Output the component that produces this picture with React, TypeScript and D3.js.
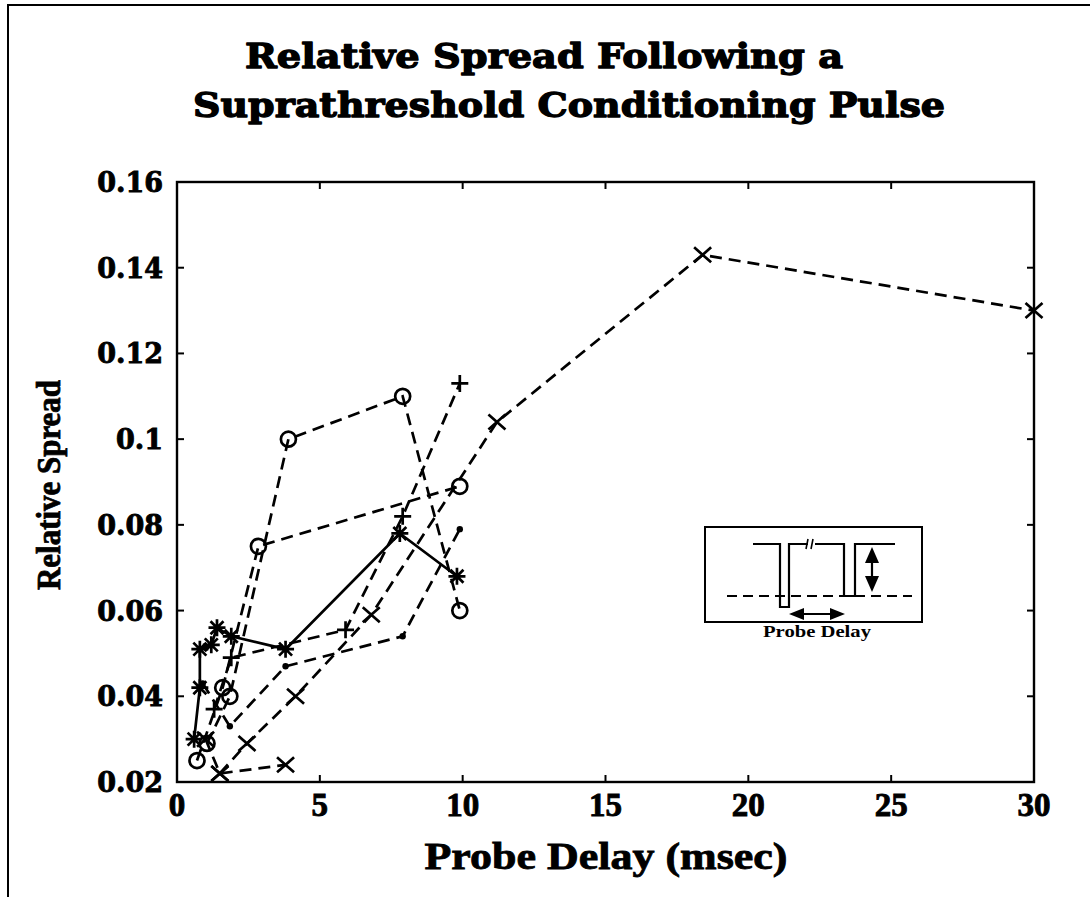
import React from "react";
import * as d3 from "d3";

// ---- data ----
const xTicks = [0, 5, 10, 15, 20, 25, 30];
const yTicks = [0.02, 0.04, 0.06, 0.08, 0.1, 0.12, 0.14, 0.16];
const yTickLabels = ["0.02", "0.04", "0.06", "0.08", "0.1", "0.12", "0.14", "0.16"];

const starX = [0.6, 0.8, 0.8, 1.2, 1.4, 1.9, 3.8, 7.8, 9.8];
const starY = [0.030, 0.042, 0.051, 0.052, 0.056, 0.054, 0.051, 0.078, 0.068];

const circleAX = [1.05, 1.85, 3.9, 7.9, 9.9];
const circleAY = [0.029, 0.040, 0.100, 0.110, 0.060];

const circleBX = [0.7, 1.6, 2.85, 9.9];
const circleBY = [0.025, 0.042, 0.075, 0.089];

const plusX = [1.3, 1.9, 5.9, 7.9, 9.9];
const plusY = [0.037, 0.049, 0.0555, 0.082, 0.113];

const dotX = [0.9, 1.85, 3.8, 7.9, 9.9];
const dotY = [0.043, 0.033, 0.047, 0.054, 0.079];

const crossAX = [1.5, 2.45, 4.15, 6.8, 11.2, 18.4, 30];
const crossAY = [0.022, 0.029, 0.040, 0.059, 0.104, 0.143, 0.130];

const crossBX = [1.0, 1.5, 3.8];
const crossBY = [0.030, 0.022, 0.024];

type Marker = "star" | "circle" | "plus" | "dot" | "cross";
const seriesList: { xs: number[]; ys: number[]; marker: Marker; dashed: boolean }[] = [
  { xs: circleAX, ys: circleAY, marker: "circle", dashed: true },
  { xs: circleBX, ys: circleBY, marker: "circle", dashed: true },
  { xs: plusX, ys: plusY, marker: "plus", dashed: true },
  { xs: dotX, ys: dotY, marker: "dot", dashed: true },
  { xs: crossAX, ys: crossAY, marker: "cross", dashed: true },
  { xs: crossBX, ys: crossBY, marker: "cross", dashed: true },
  { xs: starX, ys: starY, marker: "star", dashed: false },
];

const W = 1090;
const H = 897;
const L = 177, R = 1034, T = 182, B = 782;

const serif = "'DejaVu Serif', serif";
const times = "'Liberation Serif', 'Times New Roman', Times, serif";

function MarkerShape({ m, cx, cy }: { m: Marker; cx: number; cy: number }) {
  const sw = 2.7;
  const s = 8.5;
  const d = 7.5;
  if (m === "circle")
    return <circle cx={cx} cy={cy} r={7.5} fill="none" stroke="#000" strokeWidth={sw} />;
  if (m === "dot") return <circle cx={cx} cy={cy} r={3.2} fill="#000" />;
  if (m === "plus")
    return (
      <path d={`M${cx - s},${cy}H${cx + s}M${cx},${cy - s}V${cy + s}`} stroke="#000" strokeWidth={sw} />
    );
  if (m === "cross")
    return (
      <path
        d={`M${cx - s},${cy - d}L${cx + s},${cy + d}M${cx - s},${cy + d}L${cx + s},${cy - d}`}
        stroke="#000"
        strokeWidth={sw}
      />
    );
  return (
    <path
      d={`M${cx - s},${cy}H${cx + s}M${cx},${cy - s}V${cy + s}M${cx - 6.5},${cy - 6.5}L${cx + 6.5},${cy + 6.5}M${cx - 6.5},${cy + 6.5}L${cx + 6.5},${cy - 6.5}`}
      stroke="#000"
      strokeWidth={sw}
    />
  );
}

export default function App() {
  const x = d3.scaleLinear().domain([0, 30]).range([L, R]);
  const y = d3.scaleLinear().domain([0.02, 0.16]).range([B, T]);
  const line = d3
    .line<[number, number]>()
    .x((p) => x(p[0]))
    .y((p) => y(p[1]));

  const ix = 705, iy = 527, iw = 217, ih = 95;

  return (
    <svg
      width={W}
      height={H}
      style={{ position: "absolute", left: 0, top: 0, background: "#fff" }}
    >
      <rect x={0} y={0} width={W} height={H} fill="#fff" />
      <path d={`M8,${H}V5H${W}`} fill="none" stroke="#000" strokeWidth={2} />

      <g fontFamily={serif} fontWeight="bold" fontSize={33} stroke="#000" strokeWidth={1.3} strokeLinejoin="round">
        <text x={544} y={68} textAnchor="middle" textLength={598} lengthAdjust="spacingAndGlyphs">
          Relative Spread Following a
        </text>
        <text x={569} y={117} textAnchor="middle" textLength={752} lengthAdjust="spacingAndGlyphs">
          Suprathreshold Conditioning Pulse
        </text>
      </g>

      {seriesList.map((s, i) => (
        <path
          key={"l" + i}
          d={line(s.xs.map((v, k) => [v, s.ys[k]] as [number, number])) || ""}
          fill="none"
          stroke="#000"
          strokeWidth={2.7}
          strokeDasharray={s.dashed ? "12,7" : undefined}
        />
      ))}
      {seriesList.map((s, i) =>
        s.xs.map((v, k) => <MarkerShape key={`m${i}-${k}`} m={s.marker} cx={x(v)} cy={y(s.ys[k])} />)
      )}

      <rect x={L} y={T} width={R - L} height={B - T} fill="none" stroke="#000" strokeWidth={2.4} />
      {xTicks.map((t) => (
        <g key={"xt" + t}>
          <line x1={x(t)} x2={x(t)} y1={B} y2={B - 7} stroke="#000" strokeWidth={2} />
          <line x1={x(t)} x2={x(t)} y1={T} y2={T + 7} stroke="#000" strokeWidth={2} />
          <text x={x(t)} y={816} textAnchor="middle" fontFamily={times} fontWeight="bold" fontSize={33} stroke="#000" strokeWidth={0.9}>
            {t}
          </text>
        </g>
      ))}
      {yTicks.map((t, i) => (
        <g key={"yt" + i}>
          <line x1={L} x2={L + 7} y1={y(t)} y2={y(t)} stroke="#000" strokeWidth={2} />
          <line x1={R} x2={R - 7} y1={y(t)} y2={y(t)} stroke="#000" strokeWidth={2} />
          <text x={163} y={y(t) + 10} textAnchor="end" fontFamily={serif} fontWeight="bold" fontSize={27} stroke="#000" strokeWidth={0.9}>
            {yTickLabels[i]}
          </text>
        </g>
      ))}

      <text x={606} y={869} textAnchor="middle" fontFamily={times} fontWeight="bold" fontSize={37} textLength={363} lengthAdjust="spacingAndGlyphs" stroke="#000" strokeWidth={0.8}>
        Probe Delay (msec)
      </text>
      <text
        transform={`translate(60,485) rotate(-90)`}
        textAnchor="middle"
        fontFamily={times}
        fontWeight="bold"
        fontSize={33}
        textLength={210}
        lengthAdjust="spacingAndGlyphs"
        stroke="#000"
        strokeWidth={0.8}
      >
        Relative Spread
      </text>

      <g>
        <rect x={ix} y={iy} width={iw} height={ih} fill="#fff" stroke="#000" strokeWidth={2} />
        <line x1={727} x2={912} y1={596} y2={596} stroke="#000" strokeWidth={1.8} strokeDasharray="10,6" />
        <path
          d="M753,544H780V607H789V544H808M815,544H844V596H855V544H895"
          fill="none"
          stroke="#000"
          strokeWidth={2.2}
        />
        <path d="M808,539L806,549M813,539L811,549" stroke="#000" strokeWidth={1.6} />
        <line x1={872} x2={872} y1={556} y2={582} stroke="#000" strokeWidth={2.2} />
        <path d="M865,563L872,547L879,563Z" fill="#000" />
        <path d="M865,576L872,592L879,576Z" fill="#000" />
        <line x1={800} x2={834} y1={614} y2={614} stroke="#000" strokeWidth={2.2} />
        <path d="M804,608L789,614L804,620Z" fill="#000" />
        <path d="M830,608L845,614L830,620Z" fill="#000" />
        <text x={817} y={637} textAnchor="middle" fontFamily={times} fontWeight="bold" fontSize={16} textLength={108} lengthAdjust="spacingAndGlyphs">
          Probe Delay
        </text>
      </g>
    </svg>
  );
}
